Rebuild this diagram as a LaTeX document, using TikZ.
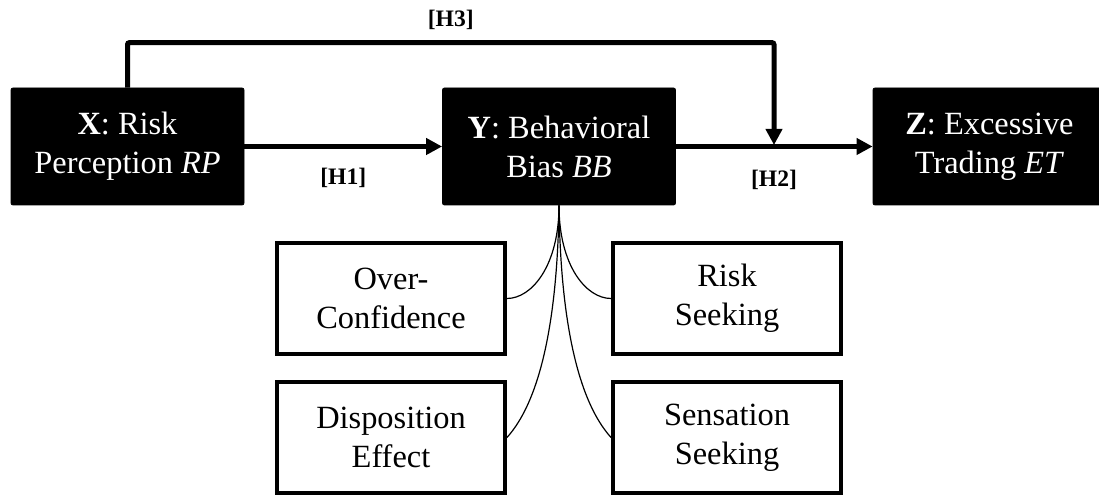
\documentclass[tikz,border=0pt]{standalone}
\usepackage{fontspec}
\setmainfont{Liberation Serif}
\usetikzlibrary{positioning, arrows.meta}

\begin{document}
\begin{tikzpicture}[x=0.5pt, y=-0.5pt,
    var/.style={draw=black, fill=black, text=white, rounded corners=1pt,
                minimum width=116.5pt, minimum height=58.5pt, inner sep=0pt,
                align=center, font=\fontsize{16.2}{19.5}\selectfont},
    bias/.style={draw=black, line width=2.2pt, fill=white,
                 minimum width=113.75pt, minimum height=55.25pt, inner sep=0pt,
                 align=center, font=\fontsize{16.2}{19.5}\selectfont},
    arr/.style={-{Triangle[length=8pt, width=8pt]}, line width=2.5pt},
    fan/.style={line width=0.6pt},
    hyp/.style={font=\fontsize{11.8}{14}\selectfont\bfseries}
  ]
  \useasboundingbox (0,0) rectangle (1099,496);

  \node[var] (rp) at (127.5,146.5) {\textbf{X}: Risk\\Perception \textit{RP}};
  \node[var] (bb) at (559,146.5)   {\textbf{Y}: Behavioral\\Bias \textit{BB}};
  \node[var] (et) at (989.5,146.5) {\textbf{Z}: Excessive\\Trading \textit{ET}};

  \node[bias] (oc) at (391,298.5) {Over-\\Confidence};
  \node[bias] (de) at (391,437.5) {Disposition\\Effect};
  \node[bias] (rs) at (727,298.5) {Risk\\Seeking};
  \node[bias] (ss) at (727,437.5) {Sensation\\Seeking};

  \coordinate (mod) at (774,145);

  \draw[arr] (rp) -- node[hyp, yshift=-15.5pt]{[H1]} (bb);
  \draw[arr] (bb.east) -- (et.west);
  % moderating path X -> (Y -> Z)
  \draw[arr, rounded corners=1pt] (rp.north) -- ++(0,-45)
        -| node[hyp, pos=0.25, yshift=11.5pt]{[H3]} (mod);
  \node[hyp] (h2) at (774,180) {[H2]};

  % facets of the bias
  \draw[fan] (bb.south) .. controls +(0,60) and +(25,0) .. (oc.east);
  \draw[fan] (bb.south) .. controls +(0,60) and +(-25,0) .. (rs.west);
  \draw[fan] (bb.south) .. controls +(-2,160) and +(18,-20) .. (de.east);
  \draw[fan] (bb.south) .. controls +(2,160) and +(-18,-20) .. (ss.west);
\end{tikzpicture}
\end{document}
